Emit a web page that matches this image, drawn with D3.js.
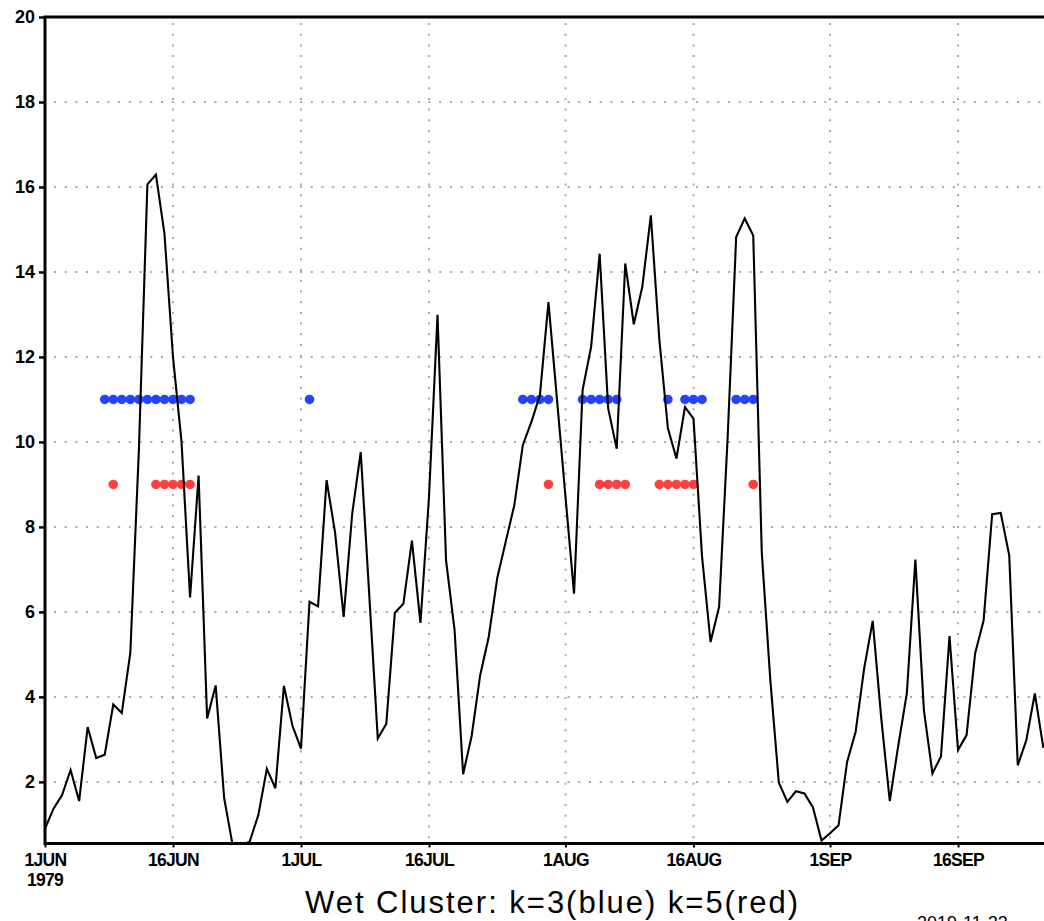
<!DOCTYPE html>
<html>
<head>
<meta charset="utf-8">
<script src="https://cdn.jsdelivr.net/npm/d3@7"></script>
<style>
  body { margin: 0; background: #fff; }
  svg { display: block; }
</style>
</head>
<body>
<svg id="chart" width="1044" height="921"></svg>
<script>
// daily series, first value is 1 JUN 1979
var startDate = new Date(Date.UTC(1979, 5, 1));
var precip = [
  0.9, 1.37, 1.69, 2.28, 1.55, 3.29, 2.56, 2.64, 3.82, 3.62,
  5.04, 9.8, 16.06, 16.29, 14.9, 12.0, 10.0, 6.34, 9.21, 3.49,
  4.27, 1.61, 0.5, 0.5, 0.6, 1.22, 2.31, 1.85, 4.26, 3.32,
  2.78, 6.24, 6.13, 9.1, 7.86, 5.88, 8.31, 9.76, 6.4, 3.02,
  3.37, 5.98, 6.19, 7.68, 5.74, 8.7, 12.99, 7.21, 5.57, 2.18,
  3.08, 4.51, 5.41, 6.8, 7.66, 8.51, 9.93, 10.47, 11.1, 13.29,
  11.0, 8.7, 6.43, 11.22, 12.24, 14.43, 10.79, 9.84, 14.2, 12.77,
  13.65, 15.33, 12.4, 10.32, 9.61, 10.82, 10.55, 7.3, 5.29, 6.12,
  10.1, 14.82, 15.26, 14.86, 7.4, 4.4, 1.98, 1.53, 1.78, 1.73,
  1.4, 0.62, 0.79, 0.98, 2.47, 3.18, 4.67, 5.79, 3.5, 1.55,
  2.86, 4.08, 7.23, 3.69, 2.2, 2.6, 5.43, 2.75, 3.1, 5.02,
  5.8, 8.3, 8.33, 7.33, 2.39, 2.98, 4.08, 2.8
];
// day offsets (from 1 JUN) flagged by each clustering
var blueDays = [7, 8, 9, 10, 11, 12, 13, 14, 15, 16, 17, 31, 56, 57, 58, 59,
  63, 64, 65, 66, 67, 73, 75, 76, 77, 81, 82, 83];
var redDays = [8, 13, 14, 15, 16, 17, 59, 65, 66, 67, 68, 72, 73, 74, 75, 76, 83];
var blueLevel = 11;
var redLevel = 9;
var yTicks = [2, 4, 6, 8, 10, 12, 14, 16, 18, 20];
var xTickDays = [0, 15, 30, 45, 61, 76, 92, 107];
var titleText = "Wet Cluster: k=3(blue) k=5(red)";
var stampText = "2019-11-23-";

(function() {
  var svg = d3.select("#chart");
  var plotLeft = 45, plotTop = 17, plotBottom = 843.5;
  var pxPerDay = 8.533;
  var dayMs = 86400000;
  var endDate = new Date(startDate.getTime() + 122 * dayMs);

  var x = d3.scaleUtc()
    .domain([startDate, endDate])
    .range([plotLeft, plotLeft + 122 * pxPerDay]);
  var y = d3.scaleLinear().domain([0.55, 20]).range([plotBottom, plotTop]);
  var plotRight = x.range()[1];

  function dayDate(d) { return new Date(startDate.getTime() + d * dayMs); }

  svg.append("defs").append("clipPath").attr("id", "plotClip")
    .append("rect")
    .attr("x", plotLeft).attr("y", plotTop)
    .attr("width", plotRight - plotLeft).attr("height", plotBottom - plotTop);

  // dotted grid
  var grid = svg.append("g")
    .attr("stroke", "#a9a9a9")
    .attr("stroke-width", 2)
    .attr("stroke-dasharray", "2,8.7");
  grid.selectAll("line.h")
    .data(yTicks.filter(function(t) { return t < 20; }))
    .enter().append("line")
    .attr("x1", plotLeft + 9).attr("x2", plotRight)
    .attr("y1", function(d) { return y(d); })
    .attr("y2", function(d) { return y(d); });
  grid.selectAll("line.v")
    .data(xTickDays.slice(1))
    .enter().append("line")
    .attr("x1", function(d) { return x(dayDate(d)); })
    .attr("x2", function(d) { return x(dayDate(d)); })
    .attr("y1", plotTop + 6).attr("y2", plotBottom);

  var plot = svg.append("g").attr("clip-path", "url(#plotClip)");

  // cluster markers
  plot.selectAll("circle.blue")
    .data(blueDays)
    .enter().append("circle")
    .attr("cx", function(d) { return x(dayDate(d)); })
    .attr("cy", y(blueLevel))
    .attr("r", 4.8)
    .attr("fill", "#2443ff");
  plot.selectAll("circle.red")
    .data(redDays)
    .enter().append("circle")
    .attr("cx", function(d) { return x(dayDate(d)); })
    .attr("cy", y(redLevel))
    .attr("r", 4.8)
    .attr("fill", "#ff4040");

  var line = d3.line()
    .x(function(d, i) { return x(dayDate(i)); })
    .y(function(d) { return y(d); });
  plot.append("path")
    .datum(precip)
    .attr("fill", "none")
    .attr("stroke", "#000")
    .attr("stroke-width", 2.1)
    .attr("stroke-linejoin", "miter")
    .attr("d", line);

  // axes
  var yAxis = d3.axisLeft(y).tickValues(yTicks).tickSize(6).tickPadding(4);
  var gy = svg.append("g").attr("transform", "translate(" + plotLeft + ",0)").call(yAxis);
  gy.select(".domain").remove();
  gy.selectAll(".tick line").attr("stroke-width", 2.5);
  gy.selectAll(".tick text")
    .attr("font-family", "Liberation Sans, Arial, sans-serif")
    .attr("font-weight", "bold")
    .attr("font-size", 18)
    .attr("fill", "#000");

  var fmt = d3.utcFormat("%-d%b");
  var xAxis = d3.axisBottom(x)
    .tickValues(xTickDays.map(dayDate))
    .tickSize(4).tickPadding(6)
    .tickFormat(function(d) { return fmt(d).toUpperCase(); });
  var gx = svg.append("g").attr("transform", "translate(0," + plotBottom + ")").call(xAxis);
  gx.select(".domain").remove();
  gx.selectAll(".tick line").attr("stroke-width", 2);
  gx.selectAll(".tick text")
    .attr("font-family", "Liberation Sans, Arial, sans-serif")
    .attr("font-weight", "bold")
    .attr("font-size", 17.5)
    .attr("letter-spacing", -0.7)
    .attr("fill", "#000");
  svg.append("text")
    .attr("x", x(startDate)).attr("y", 886)
    .attr("text-anchor", "middle")
    .attr("font-family", "Liberation Sans, Arial, sans-serif")
    .attr("font-weight", "bold")
    .attr("font-size", 17.5)
    .attr("letter-spacing", -0.7)
    .text(d3.utcFormat("%Y")(startDate));

  // frame
  svg.append("path")
    .attr("fill", "none")
    .attr("stroke", "#000")
    .attr("stroke-width", 3)
    .attr("d", "M" + plotRight + "," + plotTop + "H" + plotLeft + "V" + plotBottom + "H" + plotRight);

  svg.append("text")
    .attr("x", 551.5).attr("y", 913)
    .attr("text-anchor", "middle")
    .attr("font-family", "Liberation Sans, Arial, sans-serif")
    .attr("font-size", 31)
    .attr("textLength", 493)
    .attr("lengthAdjust", "spacing")
    .text(titleText);

  // plot timestamp, partly outside the page as in the original
  svg.append("text")
    .attr("x", 917).attr("y", 929)
    .attr("font-family", "Liberation Sans, Arial, sans-serif")
    .attr("font-size", 18)
    .text(stampText);
})();
</script>
</body>
</html>
